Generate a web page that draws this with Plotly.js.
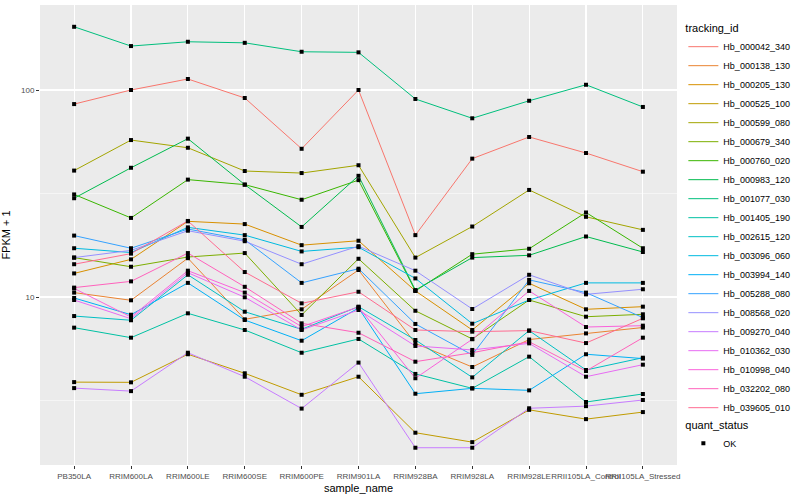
<!DOCTYPE html>
<html>
<head>
<meta charset="utf-8">
<script src="https://cdn.plot.ly/plotly-3.0.1.min.js"></script>
<style>html,body{margin:0;padding:0;background:#fff;}#chart{width:800px;height:500px;}</style>
</head>
<body>
<div id="chart"></div>
<script>
const samples = ['PB350LA','RRIM600LA','RRIM600LE','RRIM600SE','RRIM600PE','RRIM901LA','RRIM928BA','RRIM928LA','RRIM928LE','RRII105LA_Control','RRII105LA_Stressed'];

const trackingIds = ['Hb_000042_340','Hb_000138_130','Hb_000205_130','Hb_000525_100','Hb_000599_080','Hb_000679_340','Hb_000760_020','Hb_000983_120','Hb_001077_030','Hb_001405_190','Hb_002615_120','Hb_003096_060','Hb_003994_140','Hb_005288_080','Hb_008568_020','Hb_009270_040','Hb_010362_030','Hb_010998_040','Hb_032202_080','Hb_039605_010'];

const hb_000042_340 = [85.5, 100, 113, 91.5, 52, 100, 19.9, 46.6, 59.3, 49.6, 40.3];
const hb_000138_130 = [10.5, 9.64, 15.4, 7.8, 8.72, 13.5, 5.97, 4.59, 6.23, 6.67, 7.12];
const hb_000205_130 = [13.0, 15.2, 23.2, 22.5, 17.8, 18.7, 10.7, 6.93, 11.65, 8.72, 8.98];
const hb_000525_100 = [3.88, 3.87, 5.29, 4.28, 3.37, 4.12, 2.21, 1.99, 2.85, 2.57, 2.78];
const hb_000599_080 = [40.8, 57.3, 52.6, 40.6, 39.7, 43.3, 15.5, 21.9, 32.9, 24.4, 21.1];
const hb_000679_340 = [15.5, 14.0, 15.6, 16.3, 8.19, 15.3, 8.58, 6.27, 9.67, 8.03, 8.25];
const hb_000760_020 = [31.3, 24.1, 36.9, 34.9, 29.5, 36.7, 10.7, 16.1, 17.1, 25.6, 17.2];
const hb_000983_120 = [30.0, 42.1, 58.2, 34.9, 21.8, 38.5, 10.8, 15.5, 15.9, 19.6, 16.5];
const hb_001077_030 = [202, 163, 171, 169, 153, 152, 90.5, 73, 88.7, 106, 82.8];
const hb_001405_190 = [7.11, 6.36, 8.34, 6.93, 5.38, 6.27, 4.25, 3.62, 5.15, 3.11, 3.40];
const hb_002615_120 = [8.09, 7.72, 12.8, 8.49, 6.98, 8.98, 6.20, 4.09, 6.88, 4.44, 5.09];
const hb_003096_060 = [17.2, 16.4, 21.7, 19.9, 16.6, 17.4, 12.3, 7.43, 9.67, 11.7, 11.7];
const hb_003994_140 = [9.89, 8.21, 11.7, 7.74, 6.15, 8.85, 3.41, 3.62, 3.54, 5.29, 5.04];
const hb_005288_080 = [19.8, 17.2, 21.3, 18.9, 11.7, 13.7, 7.41, 5.25, 12.1, 10.5, 7.95];
const hb_008568_020 = [15.5, 16.8, 20.9, 18.6, 14.4, 17.6, 13.4, 8.75, 12.8, 10.3, 10.9];
const hb_009270_040 = [3.63, 3.51, 5.38, 4.12, 2.89, 4.82, 1.87, 1.87, 2.90, 2.97, 3.18];
const hb_010362_030 = [9.67, 7.85, 13.1, 9.97, 6.93, 8.65, 5.80, 5.55, 5.97, 4.12, 4.71];
const hb_010998_040 = [11.0, 8.0, 13.4, 10.5, 7.19, 8.95, 4.05, 6.25, 10.7, 7.16, 7.27];
const hb_032202_080 = [11.1, 11.9, 16.3, 11.2, 7.46, 6.72, 4.87, 5.38, 6.08, 4.39, 6.36];
const hb_039605_010 = [14.4, 16.2, 23.3, 13.2, 9.32, 10.6, 6.93, 6.8, 6.88, 5.99, 7.89];

const seriesValues = [hb_000042_340, hb_000138_130, hb_000205_130, hb_000525_100, hb_000599_080, hb_000679_340, hb_000760_020, hb_000983_120, hb_001077_030, hb_001405_190, hb_002615_120, hb_003096_060, hb_003994_140, hb_005288_080, hb_008568_020, hb_009270_040, hb_010362_030, hb_010998_040, hb_032202_080, hb_039605_010];

const colors = ['#F8766D','#EA8331','#D89000','#C09B00','#A3A500','#7CAE00','#39B600','#00BB4E','#00BF7D','#00C1A3','#00BFC4','#00BAE0','#00B0F6','#35A2FF','#9590FF','#C77CFF','#E76BF3','#FA62DB','#FF62BC','#FF6C91'];

const quantStatus = ['OK'];

const traces = [];
trackingIds.forEach((id, i) => {
  traces.push({
    type: 'scatter', mode: 'lines', x: samples, y: seriesValues[i], name: id,
    line: {color: colors[i], width: 1}, legend: 'legend', hoverinfo: 'skip'
  });
});
trackingIds.forEach((id, i) => {
  traces.push({
    type: 'scatter', mode: 'markers', x: samples, y: seriesValues[i], name: id,
    marker: {color: '#000000', size: 4, symbol: 'square'}, showlegend: false, hoverinfo: 'skip'
  });
});
traces.push({
  type: 'scatter', mode: 'markers', x: [null], y: [null], name: quantStatus[0],
  marker: {color: '#000000', size: 4, symbol: 'square'}, legend: 'legend2', showlegend: true
});

const layout = {
  width: 800, height: 500,
  margin: {l: 40, r: 113, t: 5, b: 35},
  paper_bgcolor: '#FFFFFF', plot_bgcolor: '#EBEBEB',
  font: {family: 'Liberation Sans, Arial, sans-serif', size: 8, color: '#4D4D4D'},
  showlegend: true,
  xaxis: {
    type: 'category', range: [-0.6, 10.6],
    showgrid: true, gridcolor: '#FFFFFF', gridwidth: 1.1,
    ticks: 'outside', ticklen: 3, tickcolor: '#333333', tickwidth: 1,
    tickfont: {size: 8, color: '#4D4D4D'}, zeroline: false, showline: false,
    tickangle: 0,
    title: {text: 'sample_name', font: {size: 11, color: '#000000'}, standoff: 4}
  },
  yaxis: {
    type: 'log', range: [0.1884, 2.4106],
    tickvals: [10, 100], ticktext: ['10', '100'],
    showgrid: true, gridcolor: '#FFFFFF', gridwidth: 1.1,
    minor: {tickvals: [3.1623, 31.623], showgrid: true, gridcolor: '#FFFFFF', gridwidth: 0.5, ticks: ''},
    ticks: 'outside', ticklen: 3, tickcolor: '#333333', tickwidth: 1,
    tickfont: {size: 8, color: '#4D4D4D'}, zeroline: false, showline: false,
    title: {text: 'FPKM + 1', font: {size: 11, color: '#000000'}, standoff: 8}
  },
  legend: {
    x: 1.01, xanchor: 'left', y: 0.972, yanchor: 'top',
    bgcolor: 'rgba(0,0,0,0)', font: {size: 9, color: '#000000'},
    title: {text: 'tracking_id', font: {size: 11, color: '#000000'}},
    tracegroupgap: 0, itemwidth: 30
  },
  legend2: {
    x: 1.01, xanchor: 'left', y: 0.11, yanchor: 'top',
    bgcolor: 'rgba(0,0,0,0)', font: {size: 9, color: '#000000'},
    title: {text: 'quant_status', font: {size: 11, color: '#000000'}},
    itemwidth: 30
  }
};

Plotly.newPlot('chart', traces, layout, {displayModeBar: false, staticPlot: true});
</script>
</body>
</html>
